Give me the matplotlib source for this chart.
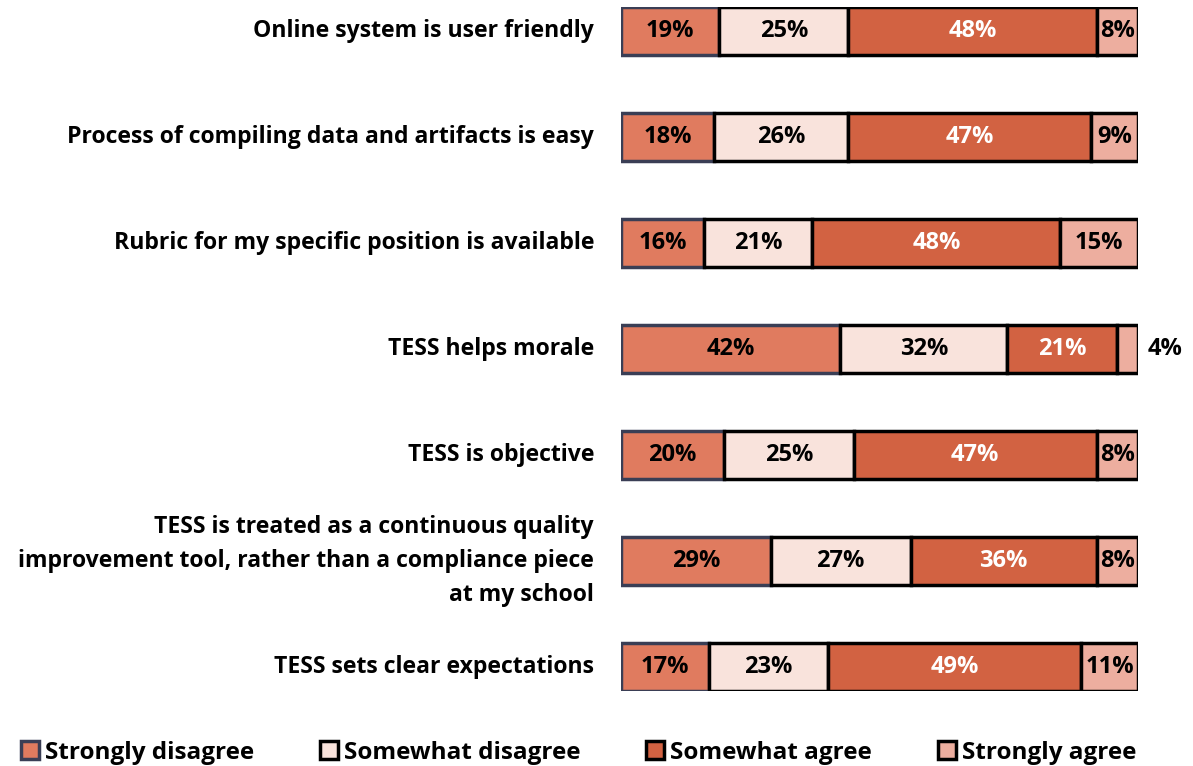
import matplotlib.pyplot as plt
import numpy as np
from matplotlib.patches import Patch

categories = [
    'Online system is user friendly',
    'Process of compiling data and artifacts is easy',
    'Rubric for my specific position is available',
    'TESS helps morale',
    'TESS is objective',
    'TESS is treated as a continuous quality\nimprovement tool, rather than a compliance piece\nat my school',
    'TESS sets clear expectations',
]
strongly_disagree = [19, 18, 16, 42, 20, 29, 17]
somewhat_disagree = [25, 26, 21, 32, 25, 27, 23]
somewhat_agree = [48, 47, 48, 21, 47, 36, 49]
strongly_agree = [8, 9, 15, 4, 8, 8, 11]
series_names = ['Strongly disagree', 'Somewhat disagree', 'Somewhat agree', 'Strongly agree']

colors = ['#E07B5F', '#F9E3DC', '#D26242', '#EDAE9F']
edges = ['#3A3E55', '#000000', '#000000', '#000000']
text_colors = ['black', 'black', 'white', 'black']

plt.rcParams['font.family'] = ['Open Sans', 'DejaVu Sans']

fig = plt.figure(figsize=(11.93, 7.66), dpi=100)
ax = fig.add_axes([621 / 1193, 1 - 691 / 766, 517 / 1193, 684 / 766])

series = np.array([strongly_disagree, somewhat_disagree, somewhat_agree, strongly_agree], dtype=float)
totals = series.sum(axis=0)
shares = series / totals * 100
y = np.arange(len(categories))
h = 0.45

left = np.zeros(len(categories))
for i in range(4):
    ax.barh(y, shares[i], h, left=left, color=colors[i], edgecolor=edges[i],
            linewidth=2.5, label=series_names[i])
    for j in range(len(categories)):
        val = series[i, j]
        if val < 5:
            ax.text(101.8, y[j], f'{int(val)}%', ha='left', va='center',
                    fontsize=17, fontweight='bold', color='black', clip_on=False)
        else:
            ax.text(left[j] + shares[i, j] / 2, y[j], f'{int(val)}%', ha='center',
                    va='center', fontsize=17, fontweight='bold', color=text_colors[i])
    left += shares[i]

ax.set_xlim(0, 100)
ax.set_ylim(len(categories) - 1 + h / 2, -h / 2)
ax.axis('off')

for j, cat in enumerate(categories):
    ax.text(-5.2, y[j], cat, ha='right', va='center', fontsize=16.6,
            fontweight='bold', linespacing=1.55, transform=ax.transData, clip_on=False)

handles = [Patch(facecolor=colors[i], edgecolor=edges[i], linewidth=2.5, label=series_names[i])
           for i in range(4)]
fig.legend(handles=handles, loc='lower center', bbox_to_anchor=(0.485, -0.027), ncol=4,
           frameon=False, prop={'weight': 'bold', 'size': 17.5},
           handlelength=0.75, handleheight=0.75, handletextpad=0.25, columnspacing=2.7)

fig.savefig('out.png', dpi=100)
